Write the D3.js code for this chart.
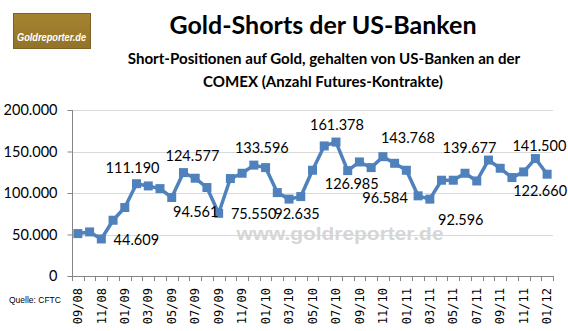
<!DOCTYPE html>
<html>
<head>
<meta charset="utf-8">
<script src="https://cdn.jsdelivr.net/npm/d3@7"></script>
<style>
  html, body { margin: 0; padding: 0; background: #fff; }
  svg { display: block; }
</style>
</head>
<body>
<svg id="chart" width="568" height="331"></svg>
<script>
// Monthly categories, Sep 2008 – Jan 2012
const months = [
  "09/08","10/08","11/08","12/08",
  "01/09","02/09","03/09","04/09","05/09","06/09","07/09","08/09","09/09","10/09","11/09","12/09",
  "01/10","02/10","03/10","04/10","05/10","06/10","07/10","08/10","09/10","10/10","11/10","12/10",
  "01/11","02/11","03/11","04/11","05/11","06/11","07/11","08/11","09/11","10/11","11/11","12/11",
  "01/12"
];

// Short positions held by US banks (number of futures contracts)
const shorts = [
  51100, 53100, 44609, 67200,
  82500, 111190, 108500, 105300, 94561, 124577, 117800, 106600, 75550, 117400, 123800, 133596,
  130600, 100500, 92635, 95700, 127400, 156700, 161378, 126985, 137400, 130600, 143768, 135800,
  127400, 96584, 92596, 115400, 115400, 123800, 114500, 139677, 129800, 118600, 125400, 141500,
  122660
];

// Axis ticks
const yTicks = [0, 50000, 100000, 150000, 200000];
const xTickLabels = months.filter((m, i) => i % 2 === 0);

// Points that carry a value label
const labeledMonths = ["11/08","02/09","05/09","06/09","09/09","12/09","03/10","07/10","08/10","11/10","02/11","03/11","08/11","12/11","01/12"];

// Label offsets from the point (label centre), in px
const labelOffset = {
  "11/08": [35, 1],  "02/09": [-4, -16], "05/09": [24, 14], "06/09": [9, -17],
  "09/09": [35, 1],  "12/09": [8, -17],  "03/10": [8, 15],  "07/10": [1, -17],
  "08/10": [4, 13],  "11/10": [25, -19], "02/11": [-33, 2], "03/11": [31, 21],
  "08/11": [-19, -12], "12/11": [4, -13], "01/12": [-7, 17]
};

const svg = d3.select("#chart");
const plot = { left: 72, right: 553, top: 110, bottom: 276 };

const de = d3.formatLocale({ decimal: ",", thousands: ".", grouping: [3], currency: ["", " €"] });
const fmt = de.format(",.0f");

const x = d3.scaleBand().domain(months).range([plot.left, plot.right]).padding(0);
const y = d3.scaleLinear().domain([0, 200000]).range([plot.bottom, plot.top]);
const cx = m => x(m) + x.bandwidth() / 2;

const numFont = "Lato, 'Open Sans', sans-serif";

// Logo badge
const logo = svg.append("g").attr("class", "logo");
const grad = svg.append("defs").append("linearGradient")
  .attr("id", "logoGrad").attr("x1", 0).attr("y1", 0).attr("x2", 0).attr("y2", 1);
grad.append("stop").attr("offset", "0%").attr("stop-color", "#a5842f");
grad.append("stop").attr("offset", "100%").attr("stop-color", "#93732a");
logo.append("rect").attr("x", 13.5).attr("y", 13.5).attr("width", 77).attr("height", 35)
  .attr("fill", "url(#logoGrad)").attr("stroke", "#7d6124").attr("stroke-width", 1);
logo.append("text").attr("x", 17).attr("y", 40.5)
  .attr("font-family", "'Liberation Sans', Arial, sans-serif")
  .attr("font-weight", "bold").attr("font-style", "italic")
  .attr("font-size", 10.5).attr("fill", "#fff")
  .attr("textLength", 69).attr("lengthAdjust", "spacingAndGlyphs")
  .text("Goldreporter.de");

// Titles
svg.append("text").attr("x", 323).attr("y", 33.5).attr("text-anchor", "middle")
  .attr("font-family", numFont).attr("font-weight", "bold").attr("font-size", 25)
  .attr("fill", "#000").text("Gold-Shorts der US-Banken");
svg.append("text").attr("x", 324).attr("y", 63.5).attr("text-anchor", "middle")
  .attr("font-family", numFont).attr("font-weight", "bold").attr("font-size", 15.1)
  .attr("fill", "#000").text("Short-Positionen auf Gold, gehalten von US-Banken an der");
svg.append("text").attr("x", 323).attr("y", 87).attr("text-anchor", "middle")
  .attr("font-family", numFont).attr("font-weight", "bold").attr("font-size", 15.1)
  .attr("fill", "#000").text("COMEX (Anzahl Futures-Kontrakte)");

// Gridlines
svg.append("g").selectAll("line").data(yTicks.filter(t => t > 0)).join("line")
  .attr("x1", plot.left).attr("x2", plot.right)
  .attr("y1", d => Math.round(y(d)) + 0.5).attr("y2", d => Math.round(y(d)) + 0.5)
  .attr("stroke", "#d9d9d9").attr("stroke-width", 1);

// Watermark
svg.append("text").attr("x", 340).attr("y", 240).attr("text-anchor", "middle")
  .attr("font-family", "'Liberation Sans', Arial, sans-serif").attr("font-weight", "bold")
  .attr("font-size", 19).attr("fill", "#d6d6d6")
  .attr("textLength", 207).attr("lengthAdjust", "spacingAndGlyphs")
  .text("www.goldreporter.de");

// Y axis
const yAxis = svg.append("g").attr("transform", `translate(${plot.left + 0.5},0)`)
  .call(d3.axisLeft(y).tickValues(yTicks).tickSize(5).tickPadding(10).tickFormat(fmt));
yAxis.select(".domain").attr("stroke", "#868686").attr("d", `M0,${plot.top}V${plot.bottom}`);
yAxis.selectAll(".tick line").attr("stroke", "#868686");
yAxis.selectAll(".tick text").attr("font-family", numFont).attr("font-size", 14.5).attr("fill", "#000");

// X axis: line, tick marks between categories, rotated labels every second month
const xAxis = svg.append("g");
xAxis.append("line").attr("x1", plot.left).attr("x2", plot.right)
  .attr("y1", plot.bottom + 0.5).attr("y2", plot.bottom + 0.5).attr("stroke", "#868686");
const boundaries = months.map(m => x(m)).concat([x(months[months.length - 1]) + x.bandwidth()]);
xAxis.selectAll("line.tick").data(boundaries).join("line").attr("class", "tick")
  .attr("x1", d => Math.round(d) + 0.5).attr("x2", d => Math.round(d) + 0.5)
  .attr("y1", plot.bottom).attr("y2", plot.bottom + 5).attr("stroke", "#868686");
xAxis.selectAll("text").data(xTickLabels).join("text")
  .attr("transform", d => `translate(${cx(d)},288) rotate(-90)`)
  .attr("text-anchor", "end").attr("dy", "0.35em")
  .attr("font-family", "'DejaVu Sans Mono', monospace").attr("font-size", 12)
  .attr("fill", "#000").text(d => d);

// Series line and markers
const series = months.map((m, i) => ({ m, v: shorts[i] }));
svg.append("path").datum(series)
  .attr("fill", "none").attr("stroke", "#4f81bd").attr("stroke-width", 3.5)
  .attr("stroke-linejoin", "round")
  .attr("d", d3.line().x(d => cx(d.m)).y(d => y(d.v)));
const ms = 9;
svg.append("g").selectAll("rect").data(series).join("rect")
  .attr("x", d => cx(d.m) - ms / 2).attr("y", d => y(d.v) - ms / 2)
  .attr("width", ms).attr("height", ms).attr("fill", "#4f81bd");

// Value labels
svg.append("g").selectAll("text").data(series.filter(d => labeledMonths.includes(d.m))).join("text")
  .attr("x", d => cx(d.m) + labelOffset[d.m][0])
  .attr("y", d => y(d.v) + labelOffset[d.m][1] + 5)
  .attr("text-anchor", "middle")
  .attr("font-family", numFont).attr("font-size", 14.5).attr("fill", "#000")
  .text(d => fmt(d.v));

// Source note
svg.append("text").attr("x", 9).attr("y", 303)
  .attr("font-family", "'Liberation Sans', Arial, sans-serif").attr("font-size", 8.5)
  .attr("fill", "#000").text("Quelle: CFTC");
</script>
</body>
</html>
